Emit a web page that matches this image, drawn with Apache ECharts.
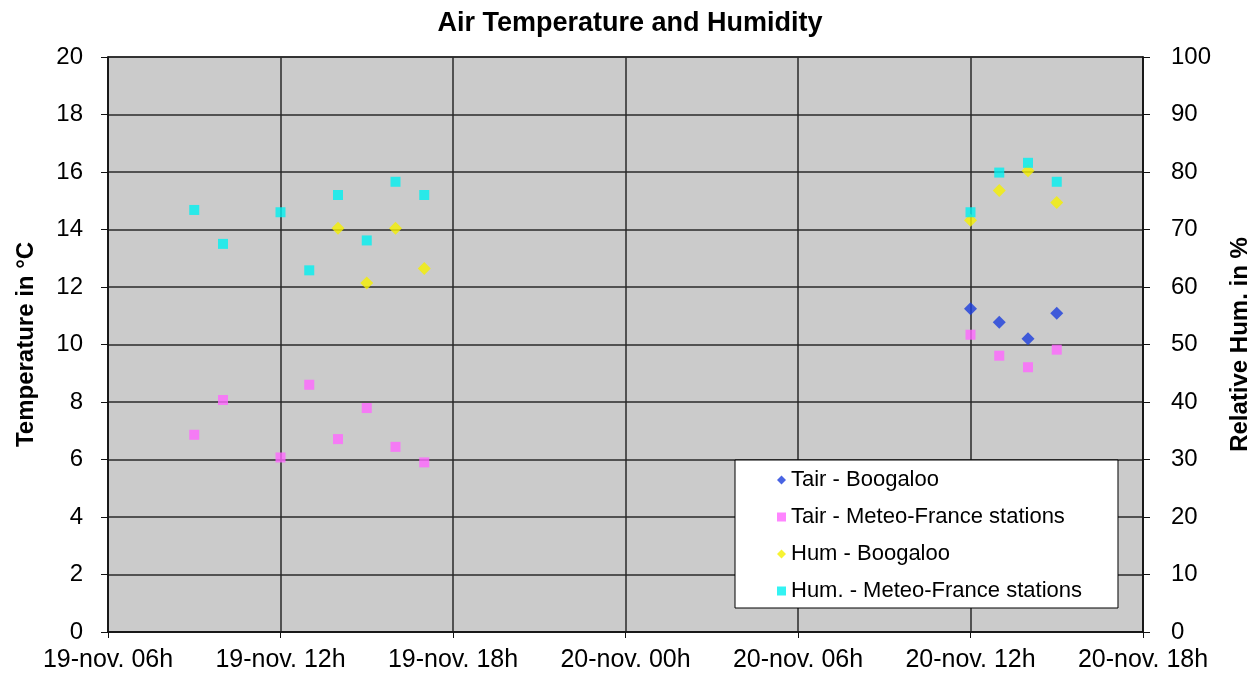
<!DOCTYPE html>
<html>
<head>
<meta charset="utf-8">
<title>Air Temperature and Humidity</title>
<script src="https://cdn.jsdelivr.net/npm/echarts@6/dist/echarts.min.js"></script>
<style>
html, body { margin: 0; padding: 0; background: #fff; }
#main { width: 1260px; height: 679px; }
</style>
</head>
<body>
<div id="main"></div>
<script>
// hours counted from 19-nov 00h
var xTicks = [6, 12, 18, 24, 30, 36, 42];
var xTickLabels = ['19-nov. 06h', '19-nov. 12h', '19-nov. 18h', '20-nov. 00h', '20-nov. 06h', '20-nov. 12h', '20-nov. 18h'];

var tairBooHours = [36, 37, 38, 39];
var tairBoo = [11.24, 10.77, 10.2, 11.09];

var tairMfHours = [9, 10, 12, 13, 14, 15, 16, 17, 36, 37, 38, 39];
var tairMf = [6.86, 8.07, 6.07, 8.6, 6.71, 7.79, 6.44, 5.9, 10.34, 9.61, 9.21, 9.82];

var humBooHours = [14, 15, 16, 17, 36, 37, 38, 39];
var humBoo = [70.2, 60.7, 70.2, 63.2, 71.6, 76.8, 80.2, 74.7];

var humMfHours = [9, 10, 12, 13, 14, 15, 16, 17, 36, 37, 38, 39];
var humMf = [73.4, 67.5, 73.0, 62.9, 76.0, 68.1, 78.3, 76.0, 73.0, 79.9, 81.6, 78.3];

function pairs(xs, ys) {
	var out = [];
	for (var i = 0; i < xs.length; i++) {
		out.push([xs[i], ys[i]]);
	}
	return out;
}

var fontFam = '"Liberation Sans", Arial, sans-serif';
var chart = echarts.init(document.getElementById('main'));
var option = {
	animation: false,
	textStyle: { fontFamily: fontFam },
	title: {
		text: 'Air Temperature and Humidity',
		left: 'center',
		top: 5,
		textStyle: { fontSize: 27, fontWeight: 'bold', color: '#000', fontFamily: fontFam }
	},
	legend: {
		orient: 'vertical',
		left: 735,
		top: 460,
		padding: [9, 36, 6, 42],
		itemGap: 15,
		itemWidth: 9,
		itemHeight: 9,
		backgroundColor: '#fff',
		borderColor: '#000',
		borderWidth: 1,
		borderRadius: 0,
		textStyle: { fontSize: 22, color: '#000', fontFamily: fontFam },
		data: [
			{ name: 'Tair - Boogaloo', icon: 'diamond' },
			{ name: 'Tair - Meteo-France stations', icon: 'rect' },
			{ name: 'Hum - Boogaloo', icon: 'diamond' },
			{ name: 'Hum. - Meteo-France stations', icon: 'rect' }
		]
	},
	grid: {
		left: 108,
		right: 116,
		top: 57,
		bottom: 47,
		show: true,
		backgroundColor: '#cbcbcb',
		borderColor: '#222',
		borderWidth: 1.5
	},
	xAxis: {
		type: 'value',
		min: 6,
		max: 42,
		interval: 6,
		axisLine: { lineStyle: { color: '#111', width: 1.5 } },
		axisTick: { show: true, length: 6, lineStyle: { color: '#111' } },
		axisLabel: {
			fontSize: 25,
			color: '#000',
			margin: 16,
			formatter: function (v) {
				var k = xTicks.indexOf(v);
				return k >= 0 ? xTickLabels[k] : '';
			}
		},
		splitLine: { show: true, lineStyle: { color: '#2a2a2a', width: 1.5 } }
	},
	yAxis: [
		{
			type: 'value',
			min: 0,
			max: 20,
			interval: 2,
			name: 'Temperature in °C',
			nameLocation: 'middle',
			nameGap: 70,
			nameTextStyle: { fontSize: 24, fontWeight: 'bold', color: '#000' },
			axisLine: { show: true, lineStyle: { color: '#111', width: 1.5 } },
			axisTick: { show: true, length: 7, lineStyle: { color: '#111' } },
			axisLabel: { fontSize: 24, color: '#000', margin: 25 },
			splitLine: { show: true, lineStyle: { color: '#2a2a2a', width: 1.5 } }
		},
		{
			type: 'value',
			min: 0,
			max: 100,
			interval: 10,
			name: 'Relative Hum. in %',
			nameLocation: 'middle',
			nameGap: 85,
			nameRotate: 90,
			nameTextStyle: { fontSize: 24, fontWeight: 'bold', color: '#000' },
			axisLine: { show: true, lineStyle: { color: '#111', width: 1.5 } },
			axisTick: { show: true, length: 7, lineStyle: { color: '#111' } },
			axisLabel: { fontSize: 24, color: '#000', margin: 28 },
			splitLine: { show: false }
		}
	],
	series: [
		{
			name: 'Tair - Boogaloo',
			type: 'scatter',
			yAxisIndex: 0,
			symbol: 'diamond',
			symbolSize: 13,
			itemStyle: { color: '#1b3ddc' },
			data: pairs(tairBooHours, tairBoo)
		},
		{
			name: 'Tair - Meteo-France stations',
			type: 'scatter',
			yAxisIndex: 0,
			symbol: 'rect',
			symbolSize: 10,
			itemStyle: { color: '#ff66ff' },
			data: pairs(tairMfHours, tairMf)
		},
		{
			name: 'Hum - Boogaloo',
			type: 'scatter',
			yAxisIndex: 1,
			symbol: 'diamond',
			symbolSize: 13,
			itemStyle: { color: '#f5f000' },
			data: pairs(humBooHours, humBoo)
		},
		{
			name: 'Hum. - Meteo-France stations',
			type: 'scatter',
			yAxisIndex: 1,
			symbol: 'rect',
			symbolSize: 10,
			itemStyle: { color: '#00f0f0' },
			data: pairs(humMfHours, humMf)
		}
	]
};
chart.setOption(option);
</script>
</body>
</html>
